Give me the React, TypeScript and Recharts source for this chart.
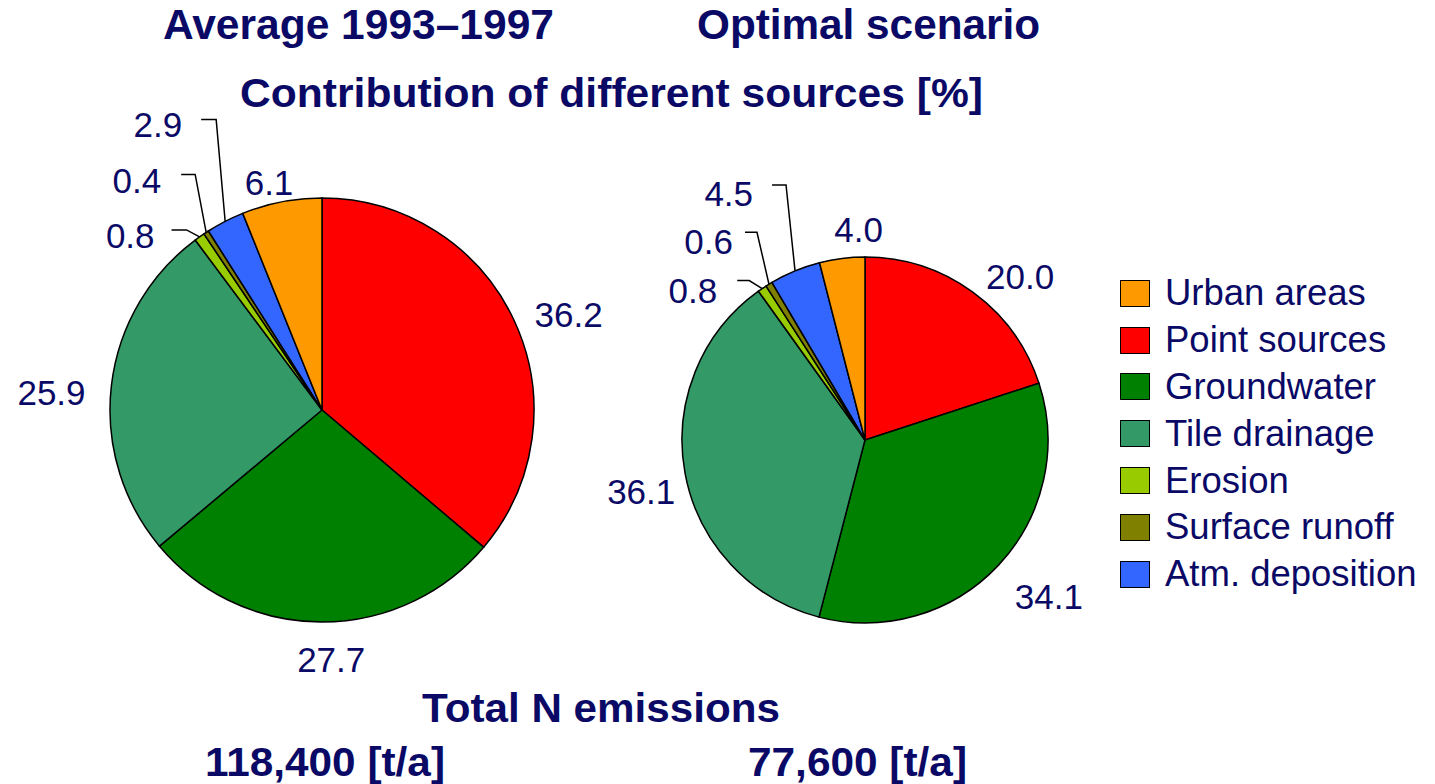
import React from 'react';
import { PieChart, Pie, Cell, Legend } from 'recharts';

// slices in drawing order, clockwise from 12 o'clock
const sources = ['Point sources', 'Groundwater', 'Tile drainage', 'Erosion', 'Surface runoff', 'Atm. deposition', 'Urban areas'];
const avgShares = [36.2, 27.7, 25.9, 0.8, 0.4, 2.9, 6.1];
const optShares = [20.0, 34.1, 36.1, 0.8, 0.6, 4.5, 4.0];
const sourceColors = ['#FF0000', '#008000', '#339966', '#99CC00', '#808000', '#3366FF', '#FF9900'];
const legendOrder = ['Urban areas', 'Point sources', 'Groundwater', 'Tile drainage', 'Erosion', 'Surface runoff', 'Atm. deposition'];

const pieTitles = ['Average 1993\u20131997', 'Optimal scenario'];
const totals = ['118,400 [t/a]', '77,600 [t/a]'];

const NAVY = '#0A0A66';
const FONT = '"Liberation Sans", Arial, Helvetica, sans-serif';
const RAD = Math.PI / 180;
const LABEL_SIZE = 35;

type LabelCfg =
  | { kind: 'radial'; rOff: number; anchor: 'start' | 'middle' | 'end'; dx: number; dy: number }
  | { kind: 'leader'; ex: number; ey: number; hLen: number; tx: number; ty: number };

// label placement, relative to the slice's edge point / radial point
const avgLabels: LabelCfg[] = [
  { kind: 'radial', rOff: 20, anchor: 'start', dx: 2, dy: 14 },
  { kind: 'radial', rOff: 38, anchor: 'middle', dx: 10, dy: 12 },
  { kind: 'radial', rOff: 20, anchor: 'end', dx: -6, dy: 22 },
  { kind: 'leader', ex: -13, ey: -7, hLen: 15, tx: -45, ty: 11 },
  { kind: 'leader', ex: -11, ey: -58, hLen: 14, tx: -45, ty: -39 },
  { kind: 'leader', ex: -9, ey: -102, hLen: 15, tx: -43, ty: -84 },
  { kind: 'radial', rOff: 19, anchor: 'middle', dx: -9, dy: 12 },
];
const optLabels: LabelCfg[] = [
  { kind: 'radial', rOff: 18, anchor: 'start', dx: 3, dy: 12 },
  { kind: 'radial', rOff: 20, anchor: 'start', dx: 2, dy: 30 },
  { kind: 'radial', rOff: 12, anchor: 'end', dx: 2, dy: 28 },
  { kind: 'leader', ex: -13, ey: -8, hLen: 12, tx: -45, ty: 14 },
  { kind: 'leader', ex: -12, ey: -52, hLen: 12, tx: -36, ty: -30 },
  { kind: 'leader', ex: -9, ey: -86, hLen: 14, tx: -42, ty: -65 },
  { kind: 'radial', rOff: 28, anchor: 'middle', dx: 20, dy: 11 },
];

const toRows = (shares: number[]) => sources.map((name, i) => ({ name, value: shares[i] }));
const avgData = toRows(avgShares);
const optData = toRows(optShares);

const polar = (cx: number, cy: number, r: number, angle: number) => ({
  x: cx + r * Math.cos(-angle * RAD),
  y: cy + r * Math.sin(-angle * RAD),
});

const makeLabel = (cfg: LabelCfg[]) => (props: any) => {
  const { cx, cy, midAngle, outerRadius, index, value } = props;
  const c = cfg[index];
  const txt = Number(value).toFixed(1);
  if (c.kind === 'leader') {
    const e = polar(cx, cy, outerRadius, midAngle);
    const bx = e.x + c.ex;
    const by = e.y + c.ey;
    return (
      <g key={`lbl-${index}`}>
        <polyline
          points={`${e.x},${e.y} ${bx},${by} ${bx - c.hLen},${by}`}
          fill="none"
          stroke="#000"
          strokeWidth={1.5}
        />
        <text x={e.x + c.tx} y={e.y + c.ty} textAnchor="end" fill={NAVY} fontSize={LABEL_SIZE} fontFamily={FONT}>
          {txt}
        </text>
      </g>
    );
  }
  const p = polar(cx, cy, outerRadius + c.rOff, midAngle);
  return (
    <text
      key={`lbl-${index}`}
      x={p.x + c.dx}
      y={p.y + c.dy}
      textAnchor={c.anchor}
      fill={NAVY}
      fontSize={LABEL_SIZE}
      fontFamily={FONT}
    >
      {txt}
    </text>
  );
};

const LegendBox = () => (
  <div style={{ fontFamily: FONT, color: NAVY, fontSize: 36.5 }}>
    {legendOrder.map((name) => (
      <div key={name} style={{ display: 'flex', alignItems: 'center', height: 46.8 }}>
        <span
          style={{
            display: 'inline-block',
            width: 28,
            height: 25,
            background: sourceColors[sources.indexOf(name)],
            border: '1.5px solid #000',
            marginRight: 15,
          }}
        />
        <span style={{ lineHeight: '46px' }}>{name}</span>
      </div>
    ))}
  </div>
);

export default function App() {
  return (
    <div style={{ position: 'absolute', left: 0, top: 0, width: 1435, height: 784, background: '#fff' }}>
      <PieChart width={1435} height={784} margin={{ top: 0, right: 0, bottom: 0, left: 0 }}>
        <Pie
          data={avgData}
          dataKey="value"
          nameKey="name"
          cx={322}
          cy={410}
          outerRadius={212}
          startAngle={90}
          endAngle={-270}
          stroke="#000"
          strokeWidth={1.5}
          label={makeLabel(avgLabels)}
          labelLine={false}
          isAnimationActive={false}
        >
          {avgData.map((d, i) => (
            <Cell key={d.name} fill={sourceColors[i]} />
          ))}
        </Pie>
        <Pie
          data={optData}
          dataKey="value"
          nameKey="name"
          cx={865}
          cy={440}
          outerRadius={183}
          startAngle={90}
          endAngle={-270}
          stroke="#000"
          strokeWidth={1.5}
          label={makeLabel(optLabels)}
          labelLine={false}
          isAnimationActive={false}
        >
          {optData.map((d, i) => (
            <Cell key={d.name} fill={sourceColors[i]} />
          ))}
        </Pie>
        <Legend content={() => <LegendBox />} wrapperStyle={{ left: 1120, top: 270, width: 315 }} />
      </PieChart>
      <svg
        width={1435}
        height={784}
        style={{ position: 'absolute', left: 0, top: 0, pointerEvents: 'none' }}
        fontFamily={FONT}
        fontWeight="bold"
        fill={NAVY}
      >
        <text x={163} y={39} fontSize={42} textLength={391} lengthAdjust="spacingAndGlyphs">{pieTitles[0]}</text>
        <text x={697} y={39} fontSize={42} textLength={343} lengthAdjust="spacingAndGlyphs">{pieTitles[1]}</text>
        <text x={240} y={107} fontSize={40} textLength={743} lengthAdjust="spacingAndGlyphs">
          Contribution of different sources [%]
        </text>
        <text x={422} y={722} fontSize={40} textLength={358} lengthAdjust="spacingAndGlyphs">Total N emissions</text>
        <text x={205} y={776} fontSize={40} textLength={240} lengthAdjust="spacingAndGlyphs">{totals[0]}</text>
        <text x={748} y={776} fontSize={40} textLength={219} lengthAdjust="spacingAndGlyphs">{totals[1]}</text>
      </svg>
    </div>
  );
}
